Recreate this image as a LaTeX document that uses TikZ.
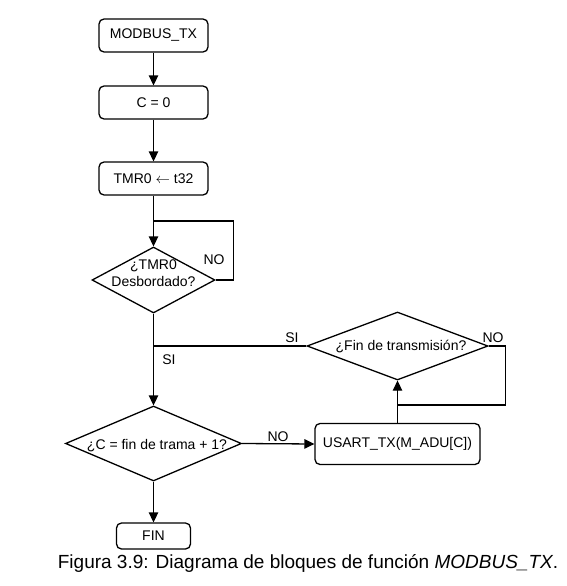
\documentclass[tikz,border=0pt]{standalone}
\usepackage{fontspec}
\setmainfont{Liberation Sans}
\usetikzlibrary{shapes.geometric,arrows.meta,calc}
\tikzset{
  box/.style={draw, line width=1.3pt, rounded corners=5pt, inner sep=0pt, font=\fontsize{14}{16}\selectfont},
  dia/.style={draw, line width=1.3pt, shape=diamond, inner sep=0pt},
  dtext/.style={font=\fontsize{14}{17}\selectfont, align=center, inner sep=0pt},
  lbl/.style={font=\fontsize{14}{16}\selectfont, inner sep=0pt},
  conn/.style={line width=1.3pt},
  arr/.style={conn, -{Triangle[length=10pt,width=9.5pt]}}
}
\begin{document}
\begin{tikzpicture}[x=1pt,y=-1pt]
\useasboundingbox (0,0) rectangle (566,586);
% boxes
\node[box, minimum width=109, minimum height=33] (m) at (153.5,35.5) {MODBUS\_TX};
\node[box, minimum width=109, minimum height=33] (c) at (153.5,102.5) {C = 0};
\node[box, minimum width=109, minimum height=33] (t) at (153.5,178.5) {TMR0 $\leftarrow$ t32};
\node[dia, minimum width=123, minimum height=66] (d1) at (153.5,280) {};
\node[dtext] (d1t) at (153.5,273) {¿TMR0\\Desbordado?};
\node[dia, minimum width=181, minimum height=68] (d3) at (397.5,346) {};
\node[dtext] (d3t) at (401,347) {¿Fin de transmisión?};
\node[dia, minimum width=176, minimum height=75] (d2) at (153.5,443.5) {};
\node[dtext] (d2t) at (157,446) {¿C = fin de trama + 1?};
\node[box, minimum width=165, minimum height=41] (u) at (397.5,444) {USART\_TX(M\_ADU[C])};
\node[box, minimum width=74, minimum height=26] (f) at (153.5,536) {FIN};
% coordinates
\coordinate (j1) at (153.5,221);
\coordinate (j2) at (153.5,346);
\coordinate (j3) at (397.5,405);
% connectors
\draw[arr] (m) -- (c);
\draw[arr] (c) -- (t);
\draw[conn] (t) -- (j1);
\draw[arr] (j1) -- (d1.north);
\draw[conn] (d1.east) -- ++(18,0) |- (j1);
\draw[arr] (d1.south) -- (d2.north);
\draw[conn] (d3.west) -- (j2);
\draw[arr] (d2.east) -- (u.west);
\draw[arr] (u.north) -- (d3.south);
\draw[conn] (d3.east) -- ++(17,0) |- (j3);
\draw[arr] (d2.south) -- (f.north);
% labels
\node[lbl] (l1) at (214,260) {NO};
\node[lbl] (l2) at (169,360) {SI};
\node[lbl] (l3) at (292,338) {SI};
\node[lbl] (l4) at (493,338) {NO};
\node[lbl] (l5) at (278,437) {NO};
% caption
\node[font=\fontsize{19}{22}\selectfont, inner sep=0pt, anchor=base] (cap) at (308,568) {Figura 3.9: Diagrama de bloques de función \textit{MODBUS\_TX}.};
\end{tikzpicture}
\end{document}
